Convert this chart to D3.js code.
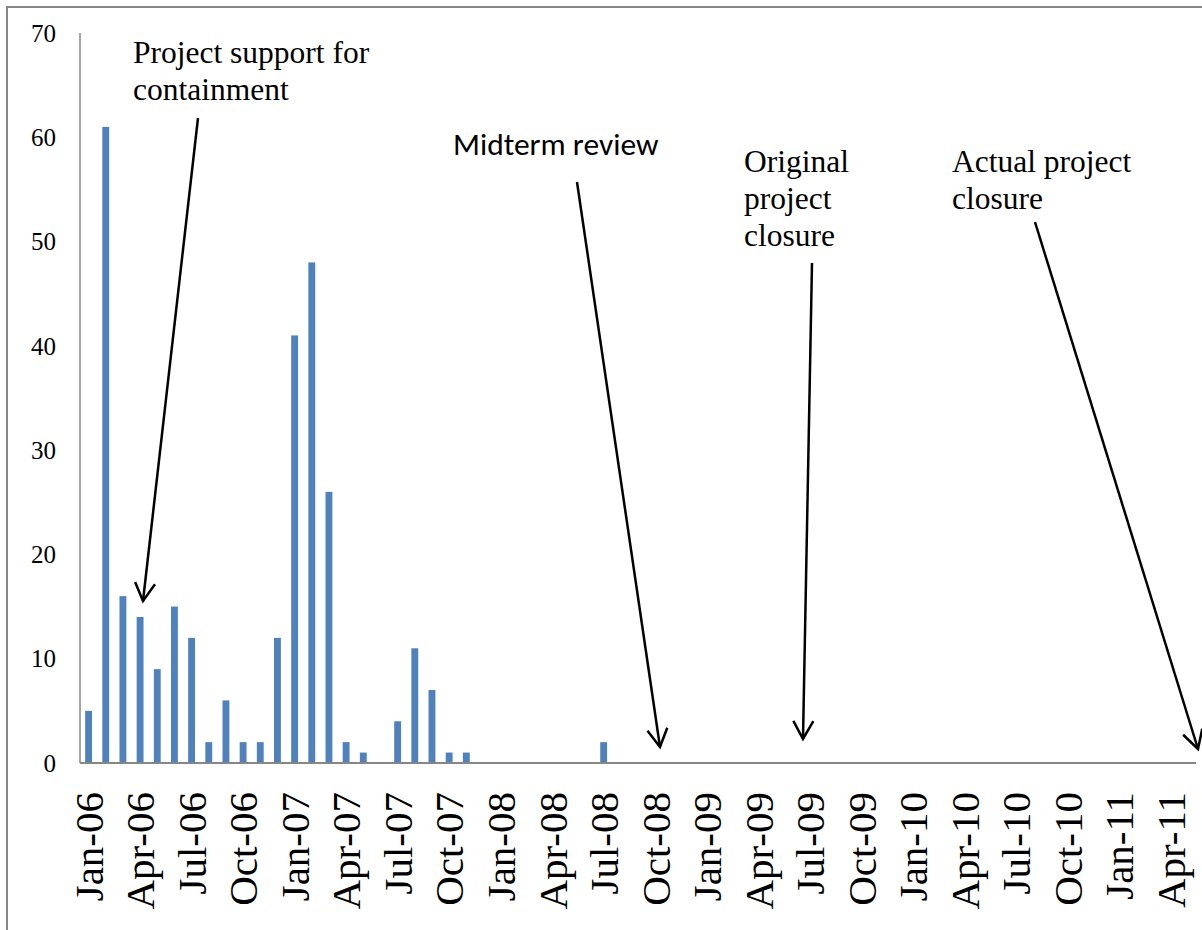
<!DOCTYPE html>
<html>
<head>
<meta charset="utf-8">
<script src="https://cdn.jsdelivr.net/npm/d3@7"></script>
<style>
  body { margin: 0; background: #fff; }
  svg { display: block; }
</style>
</head>
<body>
<svg id="chart" width="1202" height="930"></svg>
<script>
// --- Données : nombre de cas par mois, Jan-06 -> May-11 ---
const months = d3.timeMonths(new Date(2006, 0, 1), new Date(2011, 5, 1));
const cases = [
  5, 61, 16, 14, 9, 15, 12, 2, 6, 2, 2, 12,      // 2006
  41, 48, 26, 2, 1, 0, 4, 11, 7, 1, 1, 0,        // 2007
  0, 0, 0, 0, 0, 0, 2, 0, 0, 0, 0, 0,            // 2008
  0, 0, 0, 0, 0, 0, 0, 0, 0, 0, 0, 0,            // 2009
  0, 0, 0, 0, 0, 0, 0, 0, 0, 0, 0, 0,            // 2010
  0, 0, 0, 0, 0                                   // 2011
];
const yTicks = [0, 10, 20, 30, 40, 50, 60, 70];
const fmtMonth = d3.timeFormat("%b-%y");
const tickMonths = months.filter((d, i) => i % 3 === 0);

const svg = d3.select("#chart");
const serif = "Liberation Serif";

// cadre gris
svg.append("path")
  .attr("d", "M7,930 L7,7 L1202,7")
  .attr("fill", "none")
  .attr("stroke", "#878787")
  .attr("stroke-width", 2);

const x = d3.scaleBand()
  .domain(months.map(fmtMonth))
  .range([80, 1196])
  .paddingInner(0.6)
  .paddingOuter(0.3);

const y = d3.scaleLinear().domain([0, 70]).range([763, 33]);

// --- Barres ---
svg.append("g")
  .selectAll("rect")
  .data(months.map((m, i) => ({ key: fmtMonth(m), value: cases[i] })))
  .join("rect")
  .attr("x", d => x(d.key))
  .attr("y", d => y(d.value))
  .attr("width", x.bandwidth())
  .attr("height", d => y(0) - y(d.value))
  .attr("fill", "#4f81bd");

// --- Axe Y ---
svg.append("line")
  .attr("x1", 80).attr("x2", 80)
  .attr("y1", y(70)).attr("y2", y(0))
  .attr("stroke", "#868686").attr("stroke-width", 1.5);

svg.append("g")
  .style("font-family", serif)
  .style("font-size", "25px")
  .selectAll("text")
  .data(yTicks)
  .join("text")
  .attr("x", 56)
  .attr("y", d => y(d))
  .attr("dy", "0.35em")
  .attr("text-anchor", "end")
  .text(d => d);

// --- Axe X ---
svg.append("line")
  .attr("x1", 80).attr("x2", 1196)
  .attr("y1", y(0)).attr("y2", y(0))
  .attr("stroke", "#868686").attr("stroke-width", 2);

svg.append("g")
  .style("font-family", serif)
  .style("font-size", "41px")
  .selectAll("text")
  .data(tickMonths)
  .join("text")
  .attr("transform", d => `translate(${x(fmtMonth(d)) + x.bandwidth() / 2},792) rotate(-90)`)
  .attr("dy", "0.35em")
  .attr("text-anchor", "end")
  .text(d => fmtMonth(d));

// --- Annotations ---
svg.append("defs").append("marker")
  .attr("id", "head")
  .attr("viewBox", "-22 -12 26 24")
  .attr("markerUnits", "userSpaceOnUse")
  .attr("markerWidth", 26)
  .attr("markerHeight", 24)
  .attr("refX", 0).attr("refY", 0)
  .attr("orient", "auto")
  .append("path")
  .attr("d", "M-18,-10 L0,0 L-18,10")
  .attr("fill", "none")
  .attr("stroke", "#000")
  .attr("stroke-width", 2.5);

const notes = [
  { lines: ["Project support for", "containment"], x: 133, y: 63, sans: false, from: [198, 118], to: [143, 601] },
  { lines: ["Midterm review"], x: 453, y: 155, sans: true, from: [577, 182], to: [660, 747] },
  { lines: ["Original", "project", "closure"], x: 744, y: 172, sans: false, from: [812, 263], to: [803, 739] },
  { lines: ["Actual project", "closure"], x: 952, y: 172, sans: false, from: [1035, 222], to: [1198, 749] }
];

notes.forEach(n => {
  const t = svg.append("text")
    .style("font-family", n.sans ? "Carlito" : serif)
    .style("font-size", n.sans ? "31.5px" : "31.5px")
    .attr("fill", "#000");
  n.lines.forEach((l, i) => {
    t.append("tspan").attr("x", n.x).attr("y", n.y + i * 37).text(l);
  });
  svg.append("line")
    .attr("x1", n.from[0]).attr("y1", n.from[1])
    .attr("x2", n.to[0]).attr("y2", n.to[1])
    .attr("stroke", "#000")
    .attr("stroke-width", 2.5)
    .attr("marker-end", "url(#head)");
});
</script>
</body>
</html>
